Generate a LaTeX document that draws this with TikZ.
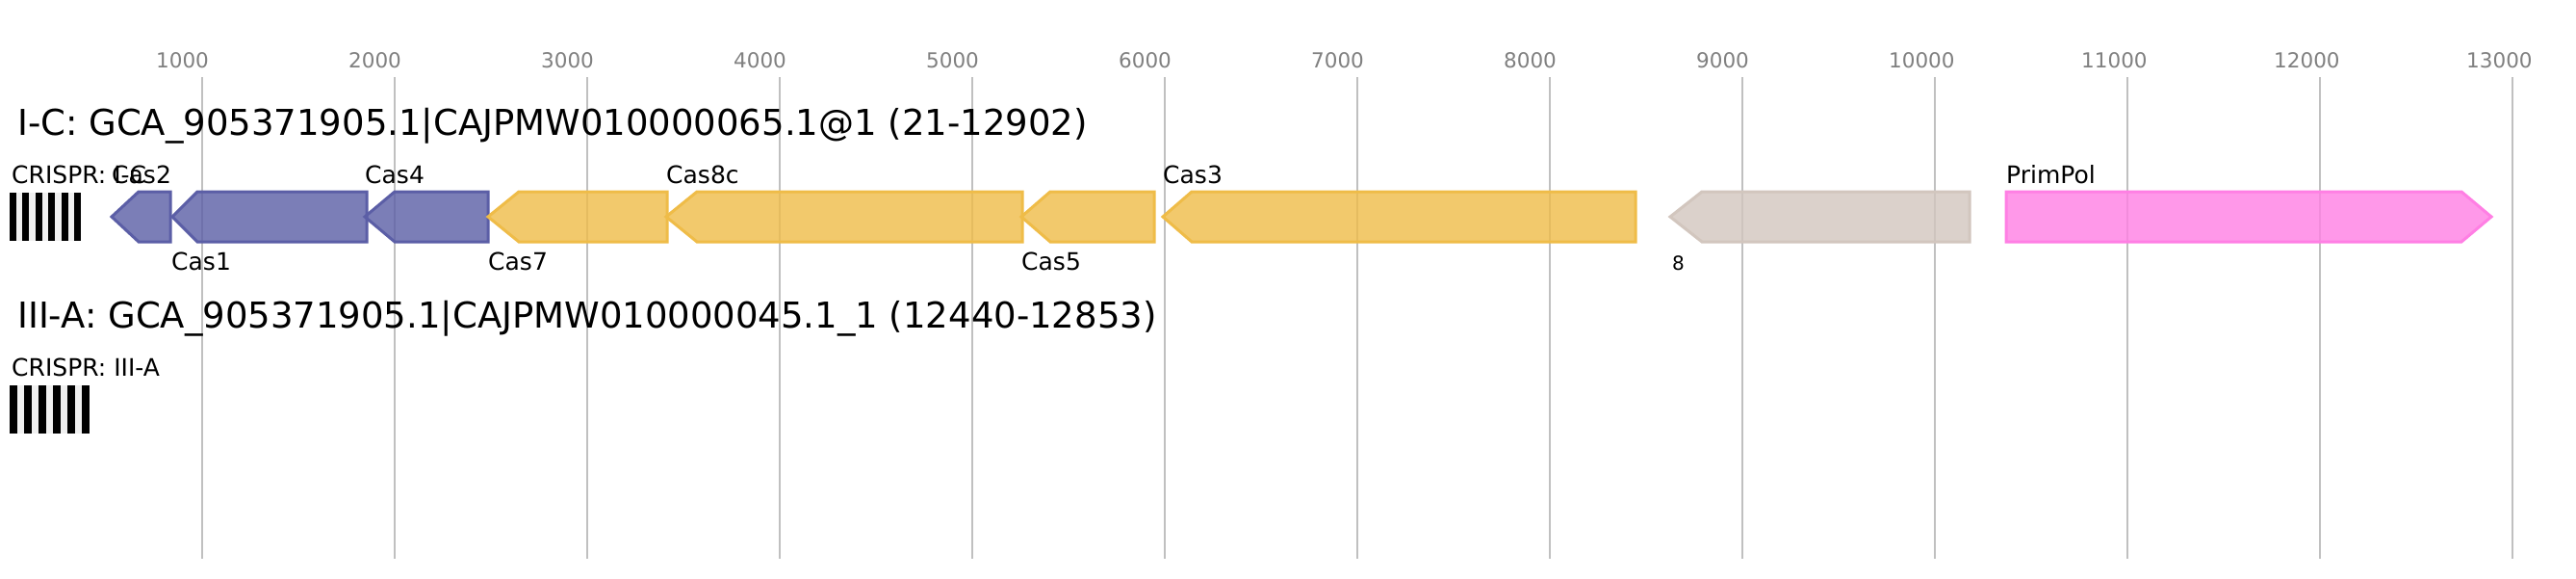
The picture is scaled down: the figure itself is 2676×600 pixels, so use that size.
\documentclass[tikz,border=0pt]{standalone}
\usepackage{fontspec}
\setmainfont{DejaVu Sans}
\definecolor{gridgray}{HTML}{C0C0C0}
\definecolor{tickgray}{HTML}{808080}
\definecolor{blueS}{HTML}{5B5EA6}
\definecolor{yellowS}{HTML}{EFBC48}
\definecolor{greyS}{HTML}{D2C6BE}
\definecolor{pinkS}{HTML}{FF7FE4}
\definecolor{arrgray}{HTML}{F0F0F0}
\newcommand\lgene[4]{\draw[#1] (#2,225) -- (#3,199) -- (#4,199) -- (#4,251) -- (#3,251) -- cycle;}
\newcommand\rgene[4]{\draw[#1] (#2,199) -- (#3,199) -- (#4,225) -- (#3,251) -- (#2,251) -- cycle;}
\begin{document}
\begin{tikzpicture}[x=1pt,y=-1pt,
  gridline/.style={draw=gridgray, line width=2pt},
  tick/.style={anchor=base west, inner sep=0pt, text=tickgray, font=\fontsize{21.5}{26}\selectfont},
  ttl/.style={anchor=base west, inner sep=0pt, font=\fontsize{37}{44}\selectfont},
  lbl/.style={anchor=base west, inner sep=0pt, font=\fontsize{25}{30}\selectfont},
  smalllbl/.style={anchor=base west, inner sep=0pt, font=\fontsize{20}{24}\selectfont},
  genebase/.style={line width=3pt, line join=miter, fill opacity=0.8},
  blueg/.style={genebase, draw=blueS, fill=blueS},
  yellowg/.style={genebase, draw=yellowS, fill=yellowS},
  greyg/.style={genebase, draw=greyS, fill=greyS},
  pinkg/.style={genebase, draw=pinkS, fill=pinkS}]
\useasboundingbox (0,0) rectangle (2676,600);
\fill[white] (0,0) rectangle (2676,600);
% grid and ticks
\foreach \k in {1,...,13}{
  \pgfmathsetmacro\gx{10+200*\k}
  \draw[gridline] (\gx,80) -- (\gx,580);
  \node[tick] (t\k) at (\gx-48,70) {\number\numexpr\k*1000\relax};
}
% titles
\node[ttl] (title1) at (18,140) {I-C: GCA\_905371905.1|CAJPMW010000065.1@1 (21-12902)};
\node[ttl] (title2) at (18,340) {III-A: GCA\_905371905.1|CAJPMW010000045.1\_1 (12440-12853)};
% CRISPR arrays
\node[lbl] (crispr1) at (12,190) {CRISPR: I-C};
\node[lbl] (crispr2) at (12,390) {CRISPR: III-A};
\foreach \i in {0,...,10}{
  \pgfmathsetmacro\xa{10+\i*74/11}
  \pgfmathsetmacro\xb{10+(\i+1)*74/11}
  \pgfmathtruncatemacro\odd{mod(\i,2)}
  \ifnum\odd=0 \fill[black] (\xa,200) rectangle (\xb,250); \else \fill[arrgray] (\xa,200) rectangle (\xb,250); \fi
  \pgfmathsetmacro\ya{10+\i*83/11}
  \pgfmathsetmacro\yb{10+(\i+1)*83/11}
  \ifnum\odd=0 \fill[black] (\ya,400) rectangle (\yb,450); \else \fill[arrgray] (\ya,400) rectangle (\yb,450); \fi
}
% genes
\lgene{blueg}{116}{144}{177}
\lgene{blueg}{179}{205}{381}
\lgene{blueg}{379}{410}{507}
\lgene{yellowg}{507}{539}{693}
\lgene{yellowg}{692}{724}{1062}
\lgene{yellowg}{1061}{1091}{1199}
\lgene{yellowg}{1208}{1238}{1699}
\lgene{greyg}{1735}{1768}{2046}
\rgene{pinkg}{2084}{2557}{2588}
% gene labels
\node[lbl] (cas2) at (116,190) {Cas2};
\node[lbl] (cas4) at (379,190) {Cas4};
\node[lbl] (cas8c) at (692,190) {Cas8c};
\node[lbl] (cas3) at (1208,190) {Cas3};
\node[lbl] (primpol) at (2084,190) {PrimPol};
\node[lbl] (cas1) at (178,280) {Cas1};
\node[lbl] (cas7) at (507,280) {Cas7};
\node[lbl] (cas5) at (1061,280) {Cas5};
\node[smalllbl] (g8) at (1737,280) {8};
\end{tikzpicture}
\end{document}
